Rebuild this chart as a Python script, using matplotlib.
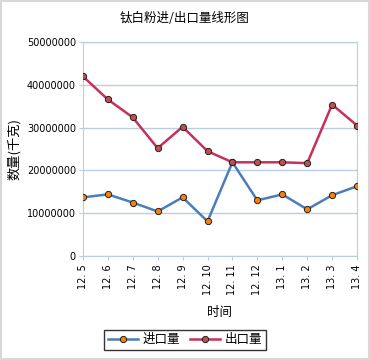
import matplotlib.pyplot as plt
from matplotlib.ticker import FuncFormatter

plt.rcParams['font.family'] = ['Noto Sans CJK SC', 'DejaVu Sans']

months = ["12. 5", "12. 6", "12. 7", "12. 8", "12. 9", "12. 10", "12. 11",
          "12. 12", "13. 1", "13. 2", "13. 3", "13. 4"]
imports = [13.7e6, 14.4e6, 12.5e6, 10.4e6, 13.7e6, 8.1e6, 21.9e6,
           13.0e6, 14.4e6, 10.9e6, 14.2e6, 16.3e6]
exports = [42.0e6, 36.6e6, 32.4e6, 25.2e6, 30.2e6, 24.5e6, 21.9e6,
           21.9e6, 21.9e6, 21.7e6, 35.4e6, 30.5e6]

grid_c = "#b9cde5"

fig = plt.figure(figsize=(3.7, 3.6), dpi=100)
ax = fig.add_axes([0.224, 0.289, 0.741, 0.594])

x = list(range(len(months)))
ax.plot(x, imports, color="#4a7ebb", lw=1.8, marker="o", ms=4.5,
        mfc="#ff7f00", mec="#202020", mew=0.7, label="进口量", zorder=3)
ax.plot(x, exports, color="#c8305c", lw=1.8, marker="o", ms=4.5,
        mfc="#c0504d", mec="#202020", mew=0.7, label="出口量", zorder=3)

ax.set_xlim(0, len(months) - 1)
ax.set_ylim(0, 50000000)
ax.set_yticks(range(0, 50000001, 10000000))
ax.yaxis.set_major_formatter(FuncFormatter(lambda v, p: f"{int(v)}"))
ax.set_xticks(x)
ax.set_xticklabels(months, rotation=90, fontsize=7, family="DejaVu Sans")
ax.tick_params(axis="y", labelsize=7, length=3, color=grid_c, pad=2)
ax.tick_params(axis="x", length=3, color=grid_c, pad=3)
for lab in ax.get_yticklabels():
    lab.set_family("DejaVu Sans")

ax.grid(axis="y", color=grid_c, lw=1)
ax.set_axisbelow(True)
for s in ax.spines.values():
    s.set_color(grid_c)

ax.set_xlabel("时间", fontsize=9, labelpad=8)
ax.set_ylabel("数量(千克)", fontsize=9.5, labelpad=4)
fig.text(0.5, 0.95, "钛白粉进/出口量线形图", ha="center", va="center", fontsize=9)

leg = fig.legend(loc="center", bbox_to_anchor=(0.5, 0.056), ncol=2, fontsize=9,
                 frameon=True, fancybox=False, handlelength=2.4,
                 columnspacing=0.8, handletextpad=0.4, borderpad=0.3)
leg.get_frame().set_edgecolor("black")
leg.get_frame().set_linewidth(1)

fig.patches.append(plt.Rectangle((0.002, 0.002), 0.996, 0.996, transform=fig.transFigure,
                                 fill=False, edgecolor="#d8d8d8", lw=1.5))

fig.savefig("out.png", dpi=100)
